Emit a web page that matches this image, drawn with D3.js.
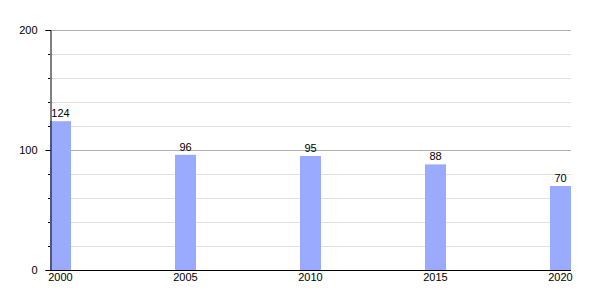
<!DOCTYPE html>
<html>
<head>
<meta charset="utf-8">
<script src="https://cdn.jsdelivr.net/npm/d3@7"></script>
<style>
  body { margin: 0; background: #fff; }
  svg text { font-family: "Liberation Sans", Arial, sans-serif; font-size: 11px; fill: #000; }
</style>
</head>
<body>
<svg id="chart" width="600" height="300"></svg>
<script>
// Data
var years = [2000, 2005, 2010, 2015, 2020];
var values = [124, 96, 95, 88, 70];
var yMajorTicks = [0, 100, 200];
var yMinorTicks = [20, 40, 60, 80, 120, 140, 160, 180];

// Layout (plot box)
var plotLeft = 50, plotRight = 571, plotTop = 30, plotBottom = 270,
    barWidth = 21;

var svg = d3.select("#chart");

var x = d3.scaleLinear()
    .domain([2000, 2020])
    .range([plotLeft + barWidth / 2, plotRight - barWidth / 2]);

var y = d3.scaleLinear()
    .domain([0, 200])
    .range([plotBottom, plotTop]);

var yPix = function(d) { return Math.round(y(d)) + 0.5; };

// Gridlines - light every 20, darker at 100s
svg.append("g").selectAll("line")
    .data(yMinorTicks)
    .enter().append("line")
    .attr("x1", plotLeft).attr("x2", plotRight)
    .attr("y1", yPix).attr("y2", yPix)
    .attr("stroke", "#e0e0e0");

svg.append("g").selectAll("line")
    .data(yMajorTicks.filter(function(d) { return d > 0; }))
    .enter().append("line")
    .attr("x1", plotLeft).attr("x2", plotRight)
    .attr("y1", yPix).attr("y2", yPix)
    .attr("stroke", "#b0b0b0");

// Bars
svg.append("g").selectAll("rect")
    .data(values)
    .enter().append("rect")
    .attr("x", function(d, i) { return x(years[i]) - barWidth / 2; })
    .attr("y", function(d) { return y(d); })
    .attr("width", barWidth)
    .attr("height", function(d) { return plotBottom - y(d); })
    .attr("fill", "#99aaff");

// Value labels
svg.append("g").selectAll("text")
    .data(values)
    .enter().append("text")
    .attr("x", function(d, i) { return x(years[i]); })
    .attr("y", function(d) { return y(d) - 4; })
    .attr("text-anchor", "middle")
    .text(function(d) { return d; });

// Y axis with major and minor ticks
var yAxis = d3.axisLeft(y).tickValues(yMajorTicks).tickSize(5).tickPadding(8);
svg.append("g")
    .attr("transform", "translate(" + (plotLeft + 0.5) + ",0)")
    .call(yAxis)
    .call(function(g) {
        g.select(".domain").attr("stroke", "#000");
        g.selectAll(".tick line").attr("stroke", "#000");
        g.attr("font-family", null).attr("font-size", null);
    });

svg.append("g").selectAll("line")
    .data(yMinorTicks)
    .enter().append("line")
    .attr("x1", plotLeft - 2).attr("x2", plotLeft)
    .attr("y1", yPix).attr("y2", yPix)
    .attr("stroke", "#000");

// X axis line and year labels
svg.append("line")
    .attr("x1", plotLeft).attr("x2", plotRight)
    .attr("y1", plotBottom + 0.5).attr("y2", plotBottom + 0.5)
    .attr("stroke", "#000");

svg.append("g").selectAll("text")
    .data(years)
    .enter().append("text")
    .attr("x", function(d) { return x(d); })
    .attr("y", plotBottom + 11)
    .attr("text-anchor", "middle")
    .text(function(d) { return d; });
</script>
</body>
</html>
